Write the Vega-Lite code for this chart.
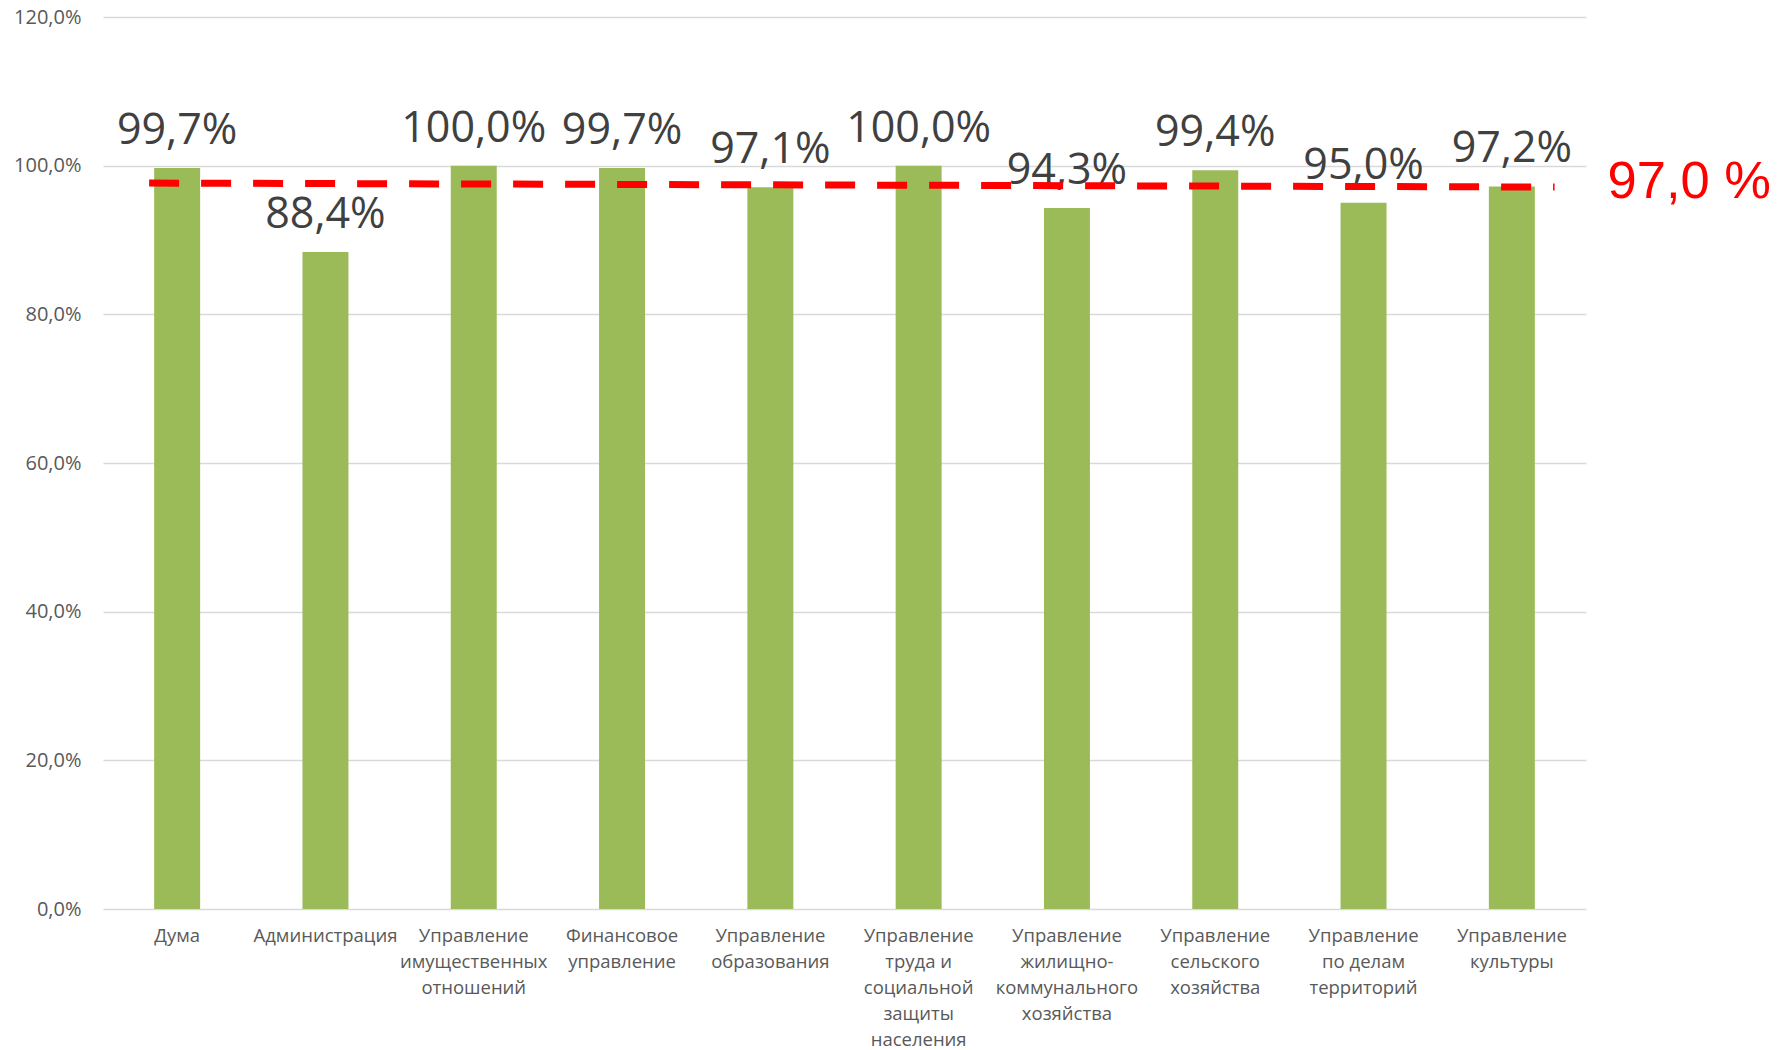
{
  "$schema": "https://vega.github.io/schema/vega-lite/v6.json",
  "autosize": {"type": "none"},
  "padding": {"left": 103, "top": 17, "right": 192, "bottom": 141},
  "width": 1483,
  "height": 892,
  "background": "white",
  "config": {
    "locale": {"number": {"decimal": ",", "thousands": "\u00a0", "grouping": [3], "currency": ["", " ₽"]}},
    "view": {"stroke": null},
    "font": "Open Sans"
  },
  "layer": [
    {
      "data": {"values": [
        {"dept": "Дума", "v": 0.997},
        {"dept": "Администрация", "v": 0.884},
        {"dept": "Управление\nимущественных\nотношений", "v": 1.0},
        {"dept": "Финансовое\nуправление", "v": 0.997},
        {"dept": "Управление\nобразования", "v": 0.971},
        {"dept": "Управление\nтруда и\nсоциальной\nзащиты\nнаселения", "v": 1.0},
        {"dept": "Управление\nжилищно-\nкоммунального\nхозяйства", "v": 0.943},
        {"dept": "Управление\nсельского\nхозяйства", "v": 0.994},
        {"dept": "Управление\nпо делам\nтерриторий", "v": 0.95},
        {"dept": "Управление\nкультуры", "v": 0.972}
      ]},
      "layer": [
        {
          "mark": {"type": "bar", "color": "#9BBB59"},
          "encoding": {
            "x": {
              "field": "dept", "type": "nominal", "title": null,
              "sort": null,
              "scale": {"paddingInner": 0.69, "paddingOuter": 0.345},
              "axis": {
                "domain": false, "ticks": false, "labelAngle": 0,
                "labelFont": "Open Sans", "labelFontSize": 18.5, "labelColor": "#595959",
                "labelLineHeight": 26, "labelPadding": 17, "labelBaseline": "top",
                "labelExpr": "split(datum.value, '\\n')",
                "labelLimit": 0
              }
            },
            "y": {
              "field": "v", "type": "quantitative", "title": null,
              "scale": {"domain": [0, 1.2], "nice": false},
              "axis": {
                "values": [0, 0.2, 0.4, 0.6, 0.8, 1.0, 1.2],
                "format": ".1%", "domain": false, "ticks": false,
                "labelFont": "Open Sans", "labelFontSize": 20, "labelColor": "#595959",
                "labelPadding": 22,
                "gridColor": "#d9d9d9", "gridWidth": 1.5
              }
            }
          }
        },
        {
          "mark": {"type": "text", "font": "Open Sans", "fontSize": 43, "color": "#404040", "baseline": "alphabetic", "dy": -24},
          "encoding": {
            "x": {"field": "dept", "type": "nominal", "sort": null},
            "y": {"field": "v", "type": "quantitative"},
            "text": {"field": "v", "type": "quantitative", "format": ".1%"}
          }
        }
      ]
    },
    {
      "data": {"values": [
        {"start": "Дума", "end": "Управление\nкультуры", "y0": 0.9766, "y1": 0.9712, "label": "97,0 %"}
      ]},
      "layer": [
        {
          "mark": {"type": "rule", "color": "#FF0000", "strokeWidth": 7, "strokeDash": [30, 22], "strokeCap": "butt"},
          "encoding": {
            "x": {"field": "start", "type": "nominal", "sort": null, "bandPosition": -0.11},
            "x2": {"field": "end", "bandPosition": 1.43},
            "y": {"field": "y0", "type": "quantitative"},
            "y2": {"field": "y1"}
          }
        },
        {
          "mark": {"type": "text", "font": "Liberation Sans", "fontSize": 52.5, "color": "#FF0000", "align": "left", "baseline": "middle", "dx": 53, "dy": -5},
          "encoding": {
            "x": {"field": "end", "type": "nominal", "sort": null, "bandPosition": 1.43},
            "y": {"field": "y1", "type": "quantitative"},
            "text": {"field": "label"}
          }
        }
      ]
    }
  ]
}
